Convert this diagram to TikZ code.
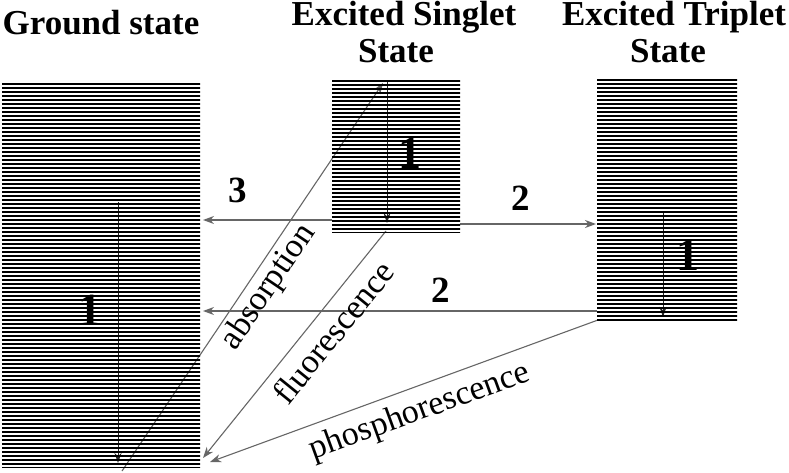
\documentclass[tikz,border=0pt]{standalone}
\usepackage{fontspec}
\setmainfont{Liberation Serif}
\usetikzlibrary{arrows.meta}
\pgfdeclarelayer{bg}
\pgfsetlayers{bg,main}
\tikzset{
  level/.style={rectangle, inner sep=0pt, minimum width=#1, path picture={
      \foreach \k in {0,...,100} {
        \draw[line width=2.2pt,black]
          ([yshift=-\k*4pt-1.3pt]path picture bounding box.north west) -- ++(400pt,0);
      }}},
  conn/.style={draw=black!60, line width=1.1pt, -{Stealth[length=11pt,width=8pt,inset=3.5pt]}},
  relax/.style={draw=black!85, line width=1pt, -{Stealth[length=10pt,width=7pt,inset=3.5pt]}},
  title/.style={font=\fontsize{35}{36}\selectfont\bfseries, anchor=base, inner sep=0pt},
  num/.style={font=\fontsize{37}{37}\selectfont\bfseries, anchor=base, inner sep=0pt},
  one/.style={font=\fontsize{46}{46}\selectfont\bfseries, anchor=base, inner sep=0pt},
  lab/.style={font=\fontsize{34}{34}\selectfont, inner sep=0pt}
}
\begin{document}
\begin{tikzpicture}[x=1pt,y=-1pt]
\useasboundingbox (0,0) rectangle (789,473);
% titles
\node[title] (tgs) at (101,35) {Ground state};
\node[title] (tss1) at (404,26) {Excited Singlet};
\node[title] (tss2) at (396,63) {State};
\node[title] (tts1) at (674,26) {Excited Triplet};
\node[title] (tts2) at (668,63) {State};
% levels
\node[level=198pt, minimum height=384pt] (gs) at (101,275) {};
\node[level=128pt, minimum height=152pt] (ss) at (396,156) {};
\node[level=140pt, minimum height=241pt] (ts) at (667,199.5) {};
% coordinates
\coordinate (g1a) at (118,202);
\coordinate (g1b) at (118,463);
\coordinate (s1a) at (387,82);
\coordinate (s1b) at (387,223);
\coordinate (t1a) at (663,213);
\coordinate (t1b) at (663,317);
\coordinate (c3a) at (332,220);
\coordinate (c3b) at (203,220);
\coordinate (c2a) at (460,224);
\coordinate (c2b) at (596,224);
\coordinate (d2a) at (597,311);
\coordinate (d2b) at (203,311);
\coordinate (aba) at (122,471);
\coordinate (abb) at (383,83);
\coordinate (fla) at (386,231);
\coordinate (flb) at (203,458);
\coordinate (pha) at (598,320);
\coordinate (phb) at (210,462);
\begin{pgfonlayer}{bg}
\draw[relax] (g1a) -- (g1b);
\draw[relax] (s1a) -- (s1b);
\draw[relax] (t1a) -- (t1b);
\draw[conn] (c3a) -- (c3b);
\draw[conn] (c2a) -- (c2b);
\draw[conn] (d2a) -- (d2b);
\draw[conn] (aba) -- (abb);
\draw[conn] (fla) -- (flb);
\draw[conn] (pha) -- (phb);
\end{pgfonlayer}
% numbers
\node[one] (n1g) at (90,325) {1};
\node[one] (n1s) at (410,168) {1};
\node[one] (n1t) at (688,270) {1};
\node[num] (n3) at (238,203) {3};
\node[num] (n2u) at (521,211) {2};
\node[num] (n2l) at (441,302) {2};
% process labels
\node[lab, rotate=56] (labs) at (269,287) {absorption};
\node[lab, rotate=51] (lfl) at (333,332) {fluorescence};
\node[lab, rotate=20] (lph) at (420,412) {phosphorescence};
\end{tikzpicture}
\end{document}
